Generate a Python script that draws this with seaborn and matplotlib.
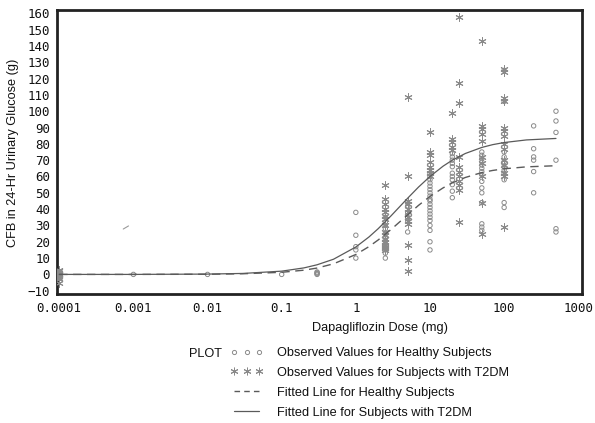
import numpy as np
import pandas as pd
import seaborn as sns
import matplotlib
matplotlib.use("Agg")
import matplotlib.pyplot as plt
from matplotlib.lines import Line2D

# observed values, healthy subjects (circles); placebo is drawn at 0.0001 mg
healthy_doses = [0.0001, 0.001, 0.01, 0.1, 0.3, 1, 2.5, 5, 10, 20, 50, 100, 250, 500]
healthy_vals = [
    [1, 0.5, 0, -0.5, -1, 0],
    [0],
    [0],
    [0],
    [0, 0.5, 1, 1.5],
    [38, 24, 17, 15, 10],
    [35, 32, 30, 28, 25, 23, 21, 19, 17, 15, 13, 10],
    [44, 42, 38, 35, 33, 26],
    [62, 60, 58, 56, 54, 52, 50, 48, 46, 45, 43, 41, 39, 37, 35, 33, 30, 27, 20, 15],
    [74, 72, 70, 68, 66, 62, 60, 58, 55, 51, 47],
    [75, 73, 71, 69, 67, 65, 63, 61, 57, 53, 50, 44, 31, 29, 27],
    [125, 106, 75, 72, 69, 66, 64, 62, 58, 44, 41],
    [91, 77, 72, 70, 63, 50],
    [100, 94, 87, 70, 28, 26],
]

# observed values, subjects with T2DM (asterisks)
t2dm_doses = [0.0001, 2.5, 5, 10, 20, 25, 50, 100]
t2dm_vals = [
    [3, 2, 1, 0.5, 0, -0.5, -1, -2, -3, -5],
    [55, 46, 43, 40, 38, 36, 34, 30, 26, 24, 22, 20, 18, 17, 16, 15],
    [109, 60, 45, 43, 40, 38, 35, 33, 31, 18, 9, 2],
    [87, 75, 73, 69, 66, 64, 62, 60],
    [99, 83, 81, 78, 76],
    [158, 117, 105, 72, 66, 63, 60, 57, 55, 52, 32],
    [143, 91, 89, 86, 82, 72, 68, 60, 44, 25],
    [126, 124, 108, 106, 90, 88, 85, 80, 77, 70, 67, 62, 60, 29],
]

# fitted lines
fit_doses = [0.0001, 0.001, 0.01, 0.03, 0.1, 0.2, 0.3, 0.5, 1, 1.5, 2, 3, 5, 7,
             10, 15, 20, 30, 50, 70, 100, 200, 500]
fit_healthy = [0, 0, 0.1, 0.4, 1.3, 2.6, 3.9, 6.5, 12.2, 17, 21.1, 27.6, 36.5, 42.3,
               47.8, 53, 56.1, 59.4, 62.4, 63.7, 64.7, 65.9, 66.6]
fit_t2dm = [0, 0, 0.2, 0.6, 2.0, 4.0, 5.9, 9.3, 16.8, 22.9, 28, 36, 46.7, 53.5,
            60, 66.3, 70, 74.1, 77.8, 79.5, 80.8, 82.4, 83.3]

# small stray stroke that sits in the empty part of the plot
stray_x = [0.00073, 0.00086]
stray_y = [27.8, 29.7]

x_ticks = [0.0001, 0.001, 0.01, 0.1, 1, 10, 100, 1000]
x_ticklabels = ['0.0001', '0.001', '0.01', '0.1', '1', '10', '100', '1000']
y_ticks = list(range(-10, 161, 10))

rows = []
for d, vals in zip(healthy_doses, healthy_vals):
    for v in vals:
        rows.append({'dose': d, 'cfb': v})
df_h = pd.DataFrame(rows)
rows = []
for d, vals in zip(t2dm_doses, t2dm_vals):
    for v in vals:
        rows.append({'dose': d, 'cfb': v})
df_t = pd.DataFrame(rows)
df_fit = pd.DataFrame({'dose': fit_doses, 'healthy': fit_healthy, 't2dm': fit_t2dm})

sns.set_style('white')
plt.rcParams['font.family'] = ['Liberation Sans', 'DejaVu Sans']
plt.rcParams['text.color'] = '#111111'
plt.rcParams['axes.labelcolor'] = '#111111'

fig = plt.figure(figsize=(5.95, 4.23), dpi=100)
ax = fig.add_axes([57 / 595, 1 - 294 / 423, 525 / 595, 284 / 423])

mcol = '#8a8a8a'
lcol = '#5a5a5a'
star = (6, 2, 0)
fs = 9.2

sns.scatterplot(data=df_h, x='dose', y='cfb', ax=ax, marker='o', s=10,
                facecolor='none', edgecolor=mcol, linewidth=0.7, legend=False, zorder=3)
sns.scatterplot(data=df_t, x='dose', y='cfb', ax=ax, marker=star, s=28,
                color=mcol, linewidth=0.7, legend=False, zorder=3)
sns.lineplot(data=df_fit, x='dose', y='healthy', ax=ax, color=lcol, lw=1.0,
             linestyle=(0, (6, 4)), zorder=4)
sns.lineplot(data=df_fit, x='dose', y='t2dm', ax=ax, color=lcol, lw=0.9, zorder=4)
ax.plot(stray_x, stray_y, color='#9a9a9a', lw=0.8)

ax.set_xscale('log')
ax.set_xlim(10 ** -4.03, 10 ** 3.05)
ax.set_ylim(-12, 162)
ax.set_xticks(x_ticks)
ax.set_xticklabels(x_ticklabels)
ax.minorticks_off()
ax.set_yticks(y_ticks)
for lab in ax.get_xticklabels() + ax.get_yticklabels():
    lab.set_family('DejaVu Sans Mono')
    lab.set_fontsize(9)
ax.tick_params(axis='both', direction='out', length=3, width=0.8, color='black',
               pad=2, labelcolor='#111111')
ax.tick_params(axis='x', pad=3)
for sp in ax.spines.values():
    sp.set_visible(True)
    sp.set_color('#222222')
    sp.set_linewidth(2.0)

ax.set_xlabel('Dapagliflozin Dose (mg)', fontsize=fs)
ax.xaxis.set_label_coords(0.615, -0.100)
ax.set_ylabel('CFB in 24-Hr Urinary Glucose (g)', fontsize=fs)
ax.yaxis.set_label_coords(-0.072, 0.496)

handles = [
    Line2D([], [], marker='o', linestyle='none', markersize=3, markerfacecolor='none',
           markeredgecolor=mcol, markeredgewidth=0.7),
    Line2D([], [], marker=star, linestyle='none', markersize=5.5, color=mcol,
           markeredgewidth=0.7),
    Line2D([], [], color=lcol, lw=1.0, linestyle=(0, (4, 3))),
    Line2D([], [], color=lcol, lw=0.9),
]
labels = ['Observed Values for Healthy Subjects',
          'Observed Values for Subjects with T2DM',
          'Fitted Line for Healthy Subjects',
          'Fitted Line for Subjects with T2DM']
fig.legend(handles, labels, loc='upper left', bbox_to_anchor=(230 / 595, 1 - 347 / 423),
           bbox_transform=fig.transFigure, frameon=False, numpoints=3, fontsize=fs,
           handlelength=2.6, handletextpad=1.1, labelspacing=0.62, borderpad=0,
           borderaxespad=0)
fig.text(189 / 595, 1 - 354 / 423, 'PLOT', fontsize=fs, va='center', ha='left')

fig.savefig('out.png', dpi=100)
